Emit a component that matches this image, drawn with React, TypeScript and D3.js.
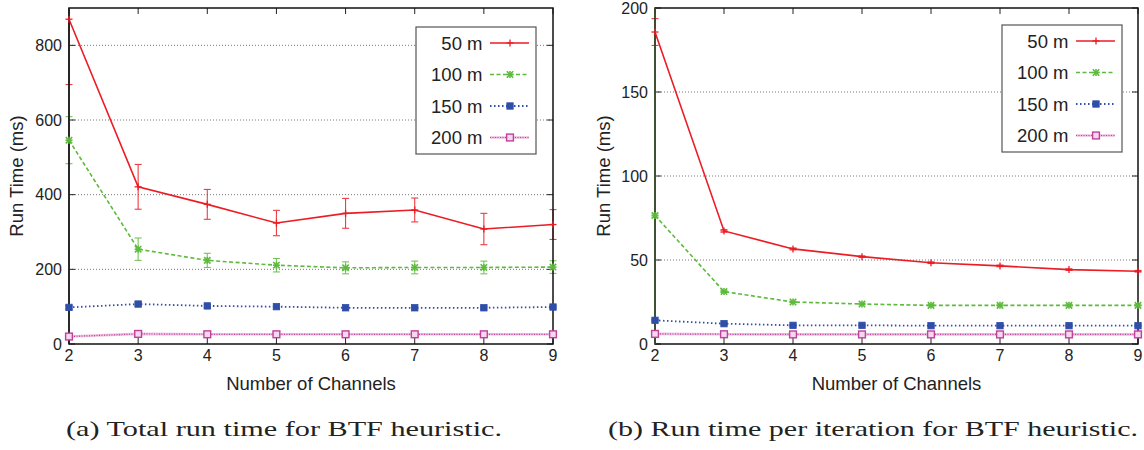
import React from "react";
import * as d3 from "d3";

const channels = [2, 3, 4, 5, 6, 7, 8, 9];
const seriesNames = ["50 m", "100 m", "150 m", "200 m"];

// (a) total run time
const totalTime50 = [870, 421, 374, 324, 350, 359, 308, 320];
const totalErr50 = [175, 60, 40, 34, 40, 32, 42, 40];
const totalTime100 = [546, 254, 224, 211, 204, 205, 205, 206];
const totalErr100 = [63, 30, 19, 18, 16, 17, 17, 17];
const totalTime150 = [98, 107, 102, 100, 97, 97, 97, 99];
const totalErr150 = [5, 5, 4, 4, 3, 3, 3, 3];
const totalTime200 = [20, 27, 26, 26, 26, 26, 26, 26];
const totalErr200 = [3, 3, 2, 2, 2, 2, 2, 2];
const totalTicks = [0, 200, 400, 600, 800];

// (b) run time per iteration
const iterTime50 = [185.7, 67.3, 56.6, 52.0, 48.4, 46.5, 44.3, 43.3];
const iterErr50 = [8, 0.8, 0.6, 0.5, 0.5, 0.5, 0.5, 0.5];
const iterTime100 = [76.5, 31.2, 25.0, 23.8, 23.0, 23.0, 23.0, 23.0];
const iterErr100 = [1, 0.5, 0.4, 0.4, 0.3, 0.3, 0.3, 0.3];
const iterTime150 = [14.1, 12.1, 11.1, 11.1, 10.9, 10.9, 10.9, 10.9];
const iterErr150 = [0.4, 0.3, 0.2, 0.2, 0.2, 0.2, 0.2, 0.2];
const iterTime200 = [6.0, 5.8, 5.7, 5.7, 5.7, 5.7, 5.7, 5.7];
const iterErr200 = [0.2, 0.2, 0.2, 0.2, 0.2, 0.2, 0.2, 0.2];
const iterTicks = [0, 50, 100, 150, 200];

const xLabel = "Number of Channels";
const yLabel = "Run Time (ms)";
const captionA = "(a) Total run time for BTF heuristic.";
const captionB = "(b) Run time per iteration for BTF heuristic.";

const SANS = "'Liberation Sans', Arial, Helvetica, sans-serif";
const SERIF = "'Liberation Serif', 'Times New Roman', serif";

type Style = {
  color: string;
  dash: string;
  width: number;
  under?: string;
  marker: "plus" | "star" | "fsq" | "osq";
};

const styles: Style[] = [
  { color: "#ec1c24", dash: "", width: 1.6, marker: "plus" },
  { color: "#5dbb3c", dash: "4,2.5", width: 1.6, marker: "star" },
  { color: "#2f4ea8", dash: "1.5,2.5", width: 1.8, marker: "fsq" },
  { color: "#c0409a", dash: "1,1.5", width: 1.2, under: "#ecbde0", marker: "osq" },
];

function Marker({ x, y, s }: { x: number; y: number; s: Style }) {
  const c = s.color;
  if (s.marker === "plus")
    return (
      <g stroke={c} strokeWidth={1.3}>
        <line x1={x - 3.5} x2={x + 3.5} y1={y} y2={y} />
        <line x1={x} x2={x} y1={y - 3.5} y2={y + 3.5} />
      </g>
    );
  if (s.marker === "star")
    return (
      <g stroke={c} strokeWidth={1.6}>
        <line x1={x - 3.2} x2={x + 3.2} y1={y - 3.2} y2={y + 3.2} />
        <line x1={x - 3.2} x2={x + 3.2} y1={y + 3.2} y2={y - 3.2} />
        <line x1={x - 3.5} x2={x + 3.5} y1={y} y2={y} />
        <line x1={x} x2={x} y1={y - 3.5} y2={y + 3.5} />
      </g>
    );
  if (s.marker === "fsq")
    return <rect x={x - 3.2} y={y - 3.2} width={6.4} height={6.4} fill={c} stroke={c} strokeWidth={0.8} />;
  return (
    <g>
      <rect x={x - 3.4} y={y - 3.4} width={6.8} height={6.8} fill="#f6d8ee" stroke={c} strokeWidth={1.4} />
    </g>
  );
}

type PanelProps = {
  id: string;
  left: number;
  right: number;
  top: number;
  bottom: number;
  yMax: number;
  yTicks: number[];
  values: number[][];
  errors: number[][];
  legend: { x: number; y: number };
  yTitleX: number;
  leftSpine: string;
};

function Panel(p: PanelProps) {
  const x = d3.scaleLinear().domain([channels[0], channels[channels.length - 1]]).range([p.left, p.right]);
  const y = d3.scaleLinear().domain([0, p.yMax]).range([p.bottom, p.top]);
  const tick = 6;
  const gridTicks = p.yTicks.filter((t) => t > 0 && t < p.yMax);
  const lineGen = d3
    .line<number>()
    .x((_, i) => x(channels[i]))
    .y((v) => y(v));
  const clipId = "clip-" + p.id;
  const lg = p.legend;
  const rowY = [16, 47.5, 79, 110.5];
  return (
    <g>
      <defs>
        <clipPath id={clipId}>
          <rect x={p.left - 10} y={p.top} width={p.right - p.left + 20} height={p.bottom - p.top} />
        </clipPath>
      </defs>
      {/* grid */}
      {gridTicks.map((t) => (
        <line key={"g" + t} x1={p.left} x2={p.right} y1={y(t)} y2={y(t)} stroke="#666" strokeWidth={0.9} strokeDasharray="1,2" />
      ))}
      {/* ticks */}
      {p.yTicks.map((t) => (
        <g key={"yt" + t} stroke="#222" strokeWidth={1}>
          <line x1={p.left} x2={p.left + tick} y1={y(t)} y2={y(t)} />
          <line x1={p.right} x2={p.right - tick} y1={y(t)} y2={y(t)} />
        </g>
      ))}
      {channels.map((c) => (
        <g key={"xt" + c} stroke="#222" strokeWidth={1}>
          <line x1={x(c)} x2={x(c)} y1={p.bottom} y2={p.bottom - tick} />
          <line x1={x(c)} x2={x(c)} y1={p.top} y2={p.top + tick} />
        </g>
      ))}
      {/* tick labels */}
      {p.yTicks.map((t) => (
        <text key={"yl" + t} x={p.left - 7} y={y(t) + 5.6} textAnchor="end" fontFamily={SANS} fontSize={16} fill="#222">
          {t}
        </text>
      ))}
      {channels.map((c) => (
        <text key={"xl" + c} x={x(c)} y={p.bottom + 16.5} textAnchor="middle" fontFamily={SANS} fontSize={16} fill="#222">
          {c}
        </text>
      ))}
      {/* axis titles */}
      <text x={(p.left + p.right) / 2} y={p.bottom + 45.5} textAnchor="middle" fontFamily={SANS} fontSize={18.5} fill="#222">
        {xLabel}
      </text>
      <text
        transform={`translate(${p.yTitleX},${(p.top + p.bottom) / 2}) rotate(-90)`}
        textAnchor="middle"
        dy="0.36em"
        fontFamily={SANS}
        fontSize={18.5}
        fill="#222"
      >
        {yLabel}
      </text>
      {/* series */}
      <g clipPath={`url(#${clipId})`}>
        {p.values.map((vals, si) => {
          const s = styles[si];
          return (
            <g key={"s" + si}>
              {s.under && <path d={lineGen(vals) || ""} fill="none" stroke={s.under} strokeWidth={2.6} />}
              <path d={lineGen(vals) || ""} fill="none" stroke={s.color} strokeWidth={s.width} strokeDasharray={s.dash} />
              {vals.map((v, i) => {
                const e = p.errors[si][i];
                const cx = x(channels[i]);
                return (
                  <g key={"e" + i} stroke={s.color} strokeWidth={1.1} opacity={0.85}>
                    <line x1={cx} x2={cx} y1={y(v - e)} y2={y(v + e)} />
                    <line x1={cx - 3.5} x2={cx + 3.5} y1={y(v - e)} y2={y(v - e)} />
                    <line x1={cx - 3.5} x2={cx + 3.5} y1={y(v + e)} y2={y(v + e)} />
                  </g>
                );
              })}
            </g>
          );
        })}
      </g>
      {/* frame */}
      <rect x={p.left} y={p.top} width={p.right - p.left} height={p.bottom - p.top} fill="none" stroke="#111" strokeWidth={1.5} />
      <line x1={p.left} x2={p.left} y1={p.top} y2={p.bottom} stroke={p.leftSpine} strokeWidth={1.6} />
      {/* markers */}
      {p.values.map((vals, si) =>
        vals.map((v, i) =>
          y(v) >= p.top ? <Marker key={"m" + si + "-" + i} x={x(channels[i])} y={y(v)} s={styles[si]} /> : null
        )
      )}
      {/* legend */}
      <rect x={lg.x} y={lg.y} width={120} height={127} fill="#fff" stroke="#555" strokeWidth={1.2} />
      {seriesNames.map((n, i) => {
        const s = styles[i];
        const yy = lg.y + rowY[i];
        return (
          <g key={"lg" + i}>
            <text x={lg.x + 66.5} y={yy + 6.6} textAnchor="end" fontFamily={SANS} fontSize={18.5} fill="#222">
              {n}
            </text>
            {s.under && <line x1={lg.x + 74} x2={lg.x + 113} y1={yy} y2={yy} stroke={s.under} strokeWidth={2.6} />}
            <line x1={lg.x + 74} x2={lg.x + 113} y1={yy} y2={yy} stroke={s.color} strokeWidth={s.width} strokeDasharray={s.dash} />
            <Marker x={lg.x + 94} y={yy} s={s} />
          </g>
        );
      })}
    </g>
  );
}

export default function App() {
  return (
    <div style={{ position: "absolute", left: 0, top: 0 }}>
      <svg width={1144} height={450} viewBox="0 0 1144 450" style={{ display: "block", background: "#fff" }}>
        <rect x={0} y={0} width={1144} height={450} fill="#fff" />
        <Panel
          id="a"
          left={69}
          right={553}
          top={8}
          bottom={344}
          yMax={900}
          yTicks={totalTicks}
          values={[totalTime50, totalTime100, totalTime150, totalTime200]}
          errors={[totalErr50, totalErr100, totalErr150, totalErr200]}
          legend={{ x: 416, y: 27 }}
          yTitleX={16}
          leftSpine="#222"
        />
        <Panel
          id="b"
          left={655}
          right={1138}
          top={8}
          bottom={344}
          yMax={200}
          yTicks={iterTicks}
          values={[iterTime50, iterTime100, iterTime150, iterTime200]}
          errors={[iterErr50, iterErr100, iterErr150, iterErr200]}
          legend={{ x: 1002, y: 25 }}
          yTitleX={603}
          leftSpine="#3c5230"
        />
        <text x={284} y={436} textAnchor="middle" fontFamily={SERIF} fontSize={21} fill="#222" textLength={436} lengthAdjust="spacingAndGlyphs">
          {captionA}
        </text>
        <text x={873} y={436} textAnchor="middle" fontFamily={SERIF} fontSize={21} fill="#222" textLength={530} lengthAdjust="spacingAndGlyphs">
          {captionB}
        </text>
      </svg>
    </div>
  );
}
